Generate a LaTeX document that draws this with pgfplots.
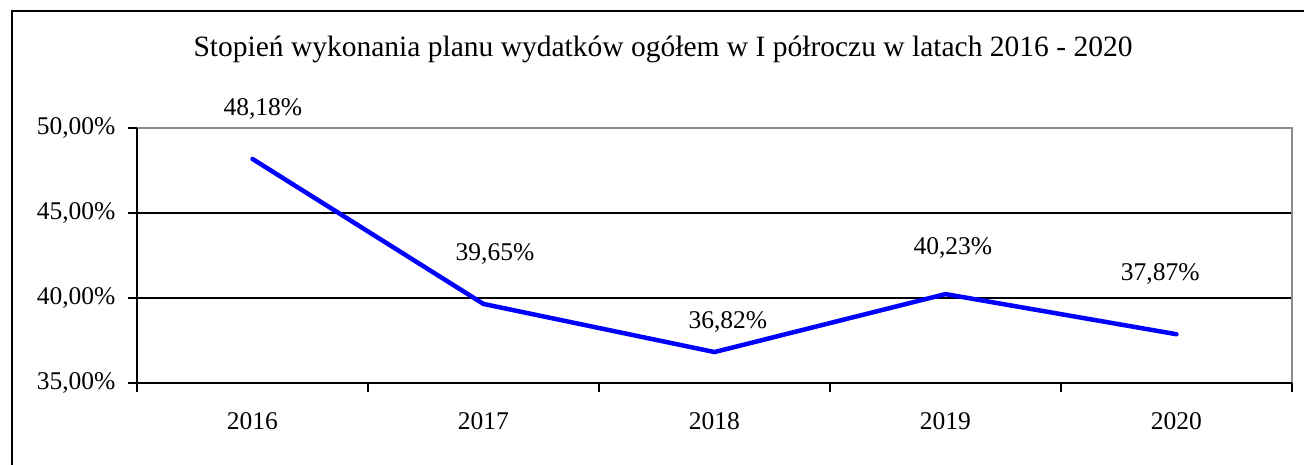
\documentclass[border=0pt]{standalone}
\usepackage{fontspec}
\setmainfont{Liberation Serif}
\usepackage{pgfplots}
\pgfplotsset{compat=1.18}
\begin{document}
\fontsize{25}{30}\selectfont
\begin{tikzpicture}[x=1pt,y=1pt]
\useasboundingbox (0,0) rectangle (1304,464);
\fill[white] (0,0) rectangle (1304,464);
\draw[black, line width=2.5pt] (12,-5) -- (12,453) -- (1310,453);
\node[font=\fontsize{29.5}{34}\selectfont] at (663,415) {Stopień wykonania planu wydatków ogółem w I półroczu w latach 2016 - 2020};
\begin{axis}[
  at={(137pt,81pt)}, anchor=south west,
  width=1155pt, height=255pt, scale only axis,
  xmin=-0.5, xmax=4.5, ymin=35, ymax=50,
  axis line style={draw=none},
  clip=false,
  xtick={0,1,2,3,4},
  xticklabels={2016,2017,2018,2019,2020},
  minor xtick={-0.5,0.5,1.5,2.5,3.5,4.5},
  xtick pos=bottom, ytick pos=left,
  major x tick style={draw=none},
  minor x tick style={black, line width=1.5pt},
  minor tick length=9pt,
  tick align=outside,
  ytick={35,40,45,50},
  yticklabels={{35,00\%},{40,00\%},{45,00\%},{50,00\%}},
  major y tick style={black, line width=1.5pt},
  major tick length=9pt,
  ymajorgrids, grid style={black, line width=1.5pt},
  ticklabel style={font=\fontsize{25.5}{30}\selectfont},
  xticklabel style={yshift=-12pt},
  yticklabel style={xshift=-4pt},
]
\draw[gray!90, line width=2pt] (rel axis cs:0,1) -- (rel axis cs:1,1) -- (rel axis cs:1,0);
\draw[black, line width=2pt] (rel axis cs:0,1) -- (rel axis cs:0,0) -- (rel axis cs:1,0);
\addplot[draw={rgb,255:red,0;green,0;blue,255}, line width=4.5pt, line join=round, line cap=round] coordinates {
(0,48.18) (1,39.65) (2,36.82) (3,40.23) (4,37.87)};
\begin{scope}[every node/.style={font=\fontsize{25.5}{30}\selectfont}]
\node at (axis cs:0.045,51.12) {48,18\%};
\node at (axis cs:1.05,42.59) {39,65\%};
\node at (axis cs:2.058,38.59) {36,82\%};
\node at (axis cs:3.032,42.94) {40,23\%};
\node at (axis cs:3.93,41.41) {37,87\%};
\end{scope}
\end{axis}
\end{tikzpicture}
\end{document}
